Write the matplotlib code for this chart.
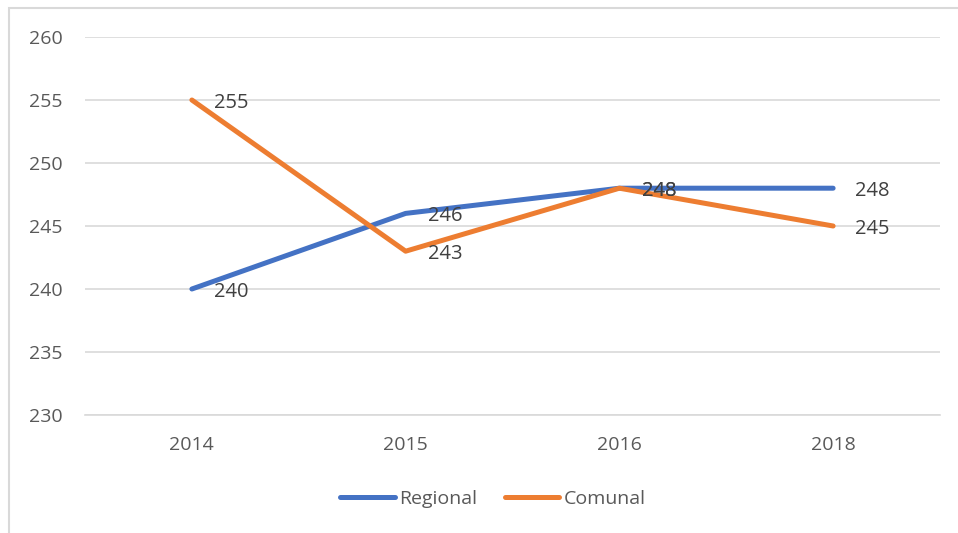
import matplotlib.pyplot as plt
from matplotlib.patches import Rectangle

years = ['2014', '2015', '2016', '2018']
regional = [240, 246, 248, 248]
comunal = [255, 243, 248, 245]
y_ticks = [230, 235, 240, 245, 250, 255, 260]

plt.rcParams['font.family'] = ['Open Sans', 'DejaVu Sans']

fig = plt.figure(figsize=(9.58, 5.33), dpi=100)
ax = fig.add_axes([85 / 958, 1 - 415 / 533, 855 / 958, 378 / 533])

# light frame around the chart area (as in the Excel export)
fig.patches.append(Rectangle((9 / 958, -0.1), 1.2, 1 - 8 / 533 + 0.1,
                             transform=fig.transFigure, fill=False,
                             edgecolor='#D9D9D9', linewidth=1.5))

x = list(range(len(years)))
blue = '#4472C4'
orange = '#ED7D31'
ax.plot(x, regional, color=blue, linewidth=3.6, solid_capstyle='round',
        solid_joinstyle='round', label='Regional', zorder=3)
ax.plot(x, comunal, color=orange, linewidth=3.6, solid_capstyle='round',
        solid_joinstyle='round', label='Comunal', zorder=3)

for xi, v in zip(x, regional):
    ax.annotate(str(v), (xi, v), xytext=(16, -2), textcoords='offset points',
                ha='left', va='center', fontsize=14.5, color='#404040', zorder=4)
for xi, v in zip(x, comunal):
    ax.annotate(str(v), (xi, v), xytext=(16, -2), textcoords='offset points',
                ha='left', va='center', fontsize=14.5, color='#404040', zorder=4)

ax.set_xlim(-0.5, 3.5)
ax.set_ylim(230, 260)
ax.set_yticks(y_ticks)
ax.set_xticks(x)
ax.set_xticklabels(years)
ax.grid(axis='y', color='#D9D9D9', linewidth=1.2)
ax.set_axisbelow(True)
for s in ['top', 'right', 'left']:
    ax.spines[s].set_visible(False)
ax.spines['bottom'].set_color('#D9D9D9')
ax.spines['bottom'].set_linewidth(1.2)
ax.tick_params(axis='both', length=0, labelsize=14, labelcolor='#595959')
ax.tick_params(axis='y', pad=16)
ax.tick_params(axis='x', pad=15)

ax.legend(loc='center', bbox_to_anchor=((493 - 85) / 855, -(499 - 415) / 378),
          ncol=2, frameon=False, fontsize=14, labelcolor='#595959',
          handlelength=2.8, handletextpad=0.25, columnspacing=1.4)

fig.savefig('out.png', dpi=100)
